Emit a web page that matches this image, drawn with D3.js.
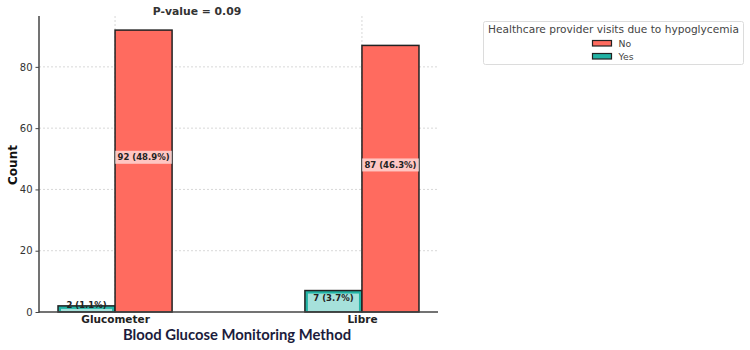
<!DOCTYPE html>
<html>
<head>
<meta charset="utf-8">
<script src="https://cdn.jsdelivr.net/npm/d3@7"></script>
<style>
  html, body { margin: 0; padding: 0; background: #fff; }
  svg { display: block; }
</style>
</head>
<body>
<svg id="chart" width="750" height="350"></svg>
<script>
// ---- data ----
const categories = ["Glucometer", "Libre"];
const hues = ["Yes", "No"];              // drawing order (left to right within group)
const legendHues = ["No", "Yes"];        // legend order
const yesCounts = [2, 7];
const noCounts = [92, 87];
const yesPercents = ["1.1%", "3.7%"];
const noPercents = ["48.9%", "46.3%"];
const yTicks = [0, 20, 40, 60, 80];
const titleText = "P-value = 0.09";
const xLabel = "Blood Glucose Monitoring Method";
const yLabel = "Count";
const legendTitle = "Healthcare provider visits due to hypoglycemia";

const colors = { No: "#FF6B5F", Yes: "#22B3A5" };

const rows = [];
categories.forEach((c, i) => {
  rows.push({ cat: c, hue: "Yes", value: yesCounts[i], pct: yesPercents[i] });
  rows.push({ cat: c, hue: "No", value: noCounts[i], pct: noPercents[i] });
});

// ---- layout ----
const svg = d3.select("#chart");
const pLeft = 39, pRight = 438, pTop = 16, pBottom = 312;

const x = d3.scalePoint().domain(categories).range([pLeft, pRight]).padding(0.308);
const step = x.step();
const barW = step * 0.231;
const sub = d3.scaleOrdinal().domain(hues).range([-barW, 0]);
const y = d3.scaleLinear().domain([0, 96.6]).range([pBottom, pTop]);

// grid
const grid = svg.append("g");
grid.selectAll("line.h").data(yTicks.filter(d => d > 0)).join("line")
  .attr("x1", pLeft).attr("x2", pRight)
  .attr("y1", d => y(d)).attr("y2", d => y(d))
  .attr("stroke", "#d8d8d8").attr("stroke-width", 1).attr("stroke-dasharray", "2,2");
grid.selectAll("line.v").data(categories).join("line")
  .attr("x1", d => x(d)).attr("x2", d => x(d))
  .attr("y1", pTop).attr("y2", pBottom)
  .attr("stroke", "#d8d8d8").attr("stroke-width", 1).attr("stroke-dasharray", "2,2");

// bars
svg.append("g").selectAll("rect").data(rows).join("rect")
  .attr("x", d => x(d.cat) + sub(d.hue))
  .attr("y", d => y(d.value))
  .attr("width", barW)
  .attr("height", d => y(0) - y(d.value))
  .attr("fill", d => colors[d.hue])
  .attr("stroke", "#222")
  .attr("stroke-width", 1.5);

// labels
const lab = svg.append("g");
rows.forEach(d => {
  const x0 = x(d.cat) + sub(d.hue);
  const cx = x0 + barW / 2;
  const txt = `${d.value} (${d.pct})`;
  const g = lab.append("g");
  let baseline;
  if (d.hue === "No") {
    baseline = y(d.value / 2 + 4) + 1.5;
  } else {
    baseline = y(d.value / 2) - 0.5;
  }
  const t = g.append("text")
    .attr("x", cx).attr("y", baseline)
    .attr("text-anchor", "middle")
    .attr("font-family", "DejaVu Sans")
    .attr("font-weight", "bold")
    .attr("font-size", 8.5)
    .attr("fill", "#222")
    .text(txt);
  const tw = t.node().getComputedTextLength();
  if (d.hue === "No") {
    const boxW = tw + 5, boxH = 13, cy = baseline - 3;
    g.insert("rect", "text")
      .attr("x", cx - boxW / 2).attr("y", cy - boxH / 2)
      .attr("width", boxW).attr("height", boxH)
      .attr("fill", "#fff").attr("fill-opacity", 0.62);
  } else {
    const inset = 3;
    const yTop = y(d.value) + inset;
    const h = Math.max(1.5, y(0) - 1 - yTop);
    g.insert("rect", "text")
      .attr("x", x0 + inset).attr("y", yTop)
      .attr("width", barW - 2 * inset).attr("height", h)
      .attr("fill", "#fff").attr("fill-opacity", 0.6);
  }
});

// clip region below axis (labels clipped by axes)
svg.append("rect").attr("x", 0).attr("y", pBottom + 1).attr("width", pRight + 5).attr("height", 8).attr("fill", "#fff");

// axes
const yAxis = d3.axisLeft(y).tickValues(yTicks).tickSize(3.5).tickPadding(3);
const gy = svg.append("g").attr("transform", `translate(${pLeft},0)`).call(yAxis);
gy.select(".domain").remove();
gy.selectAll(".tick line").attr("stroke", "#444");
gy.selectAll(".tick text").attr("font-family", "DejaVu Sans").attr("font-size", 10).attr("fill", "#333");
svg.append("line").attr("x1", pLeft).attr("x2", pLeft).attr("y1", pTop).attr("y2", pBottom + 0.75)
  .attr("stroke", "#444").attr("stroke-width", 1.5);
svg.append("line").attr("x1", pLeft).attr("x2", pRight).attr("y1", pBottom).attr("y2", pBottom)
  .attr("stroke", "#444").attr("stroke-width", 1.5);

const xAxis = d3.axisBottom(x).tickSize(0).tickPadding(0);
const gx = svg.append("g").attr("transform", `translate(0,${pBottom})`).call(xAxis);
gx.select(".domain").remove();
gx.selectAll(".tick text").attr("font-family", "DejaVu Sans").attr("font-weight", "bold")
  .attr("font-size", 10.5).attr("fill", "#222").attr("dy", null).attr("y", 11);

// titles
svg.append("text").attr("x", 197).attr("y", 15).attr("text-anchor", "middle")
  .attr("font-family", "DejaVu Sans").attr("font-weight", "bold").attr("font-size", 10.8)
  .attr("fill", "#333").text(titleText);

svg.append("text").attr("transform", `translate(17,165) rotate(-90)`).attr("text-anchor", "middle")
  .attr("font-family", "DejaVu Sans").attr("font-weight", "bold").attr("font-size", 12)
  .attr("fill", "#111").text(yLabel);

svg.append("text").attr("x", 237).attr("y", 340).attr("text-anchor", "middle")
  .attr("font-family", "Lato").attr("font-weight", "bold").attr("font-size", 14.8)
  .attr("fill", "#1c1c3c").text(xLabel);

// legend
const lg = svg.append("g");
lg.append("rect").attr("x", 483.5).attr("y", 21.5).attr("width", 260).attr("height", 43).attr("rx", 2)
  .attr("fill", "#fff").attr("stroke", "#dcdcdc").attr("stroke-width", 1);
lg.append("text").attr("x", 613.5).attr("y", 33).attr("text-anchor", "middle")
  .attr("font-family", "DejaVu Sans").attr("font-size", 10.6).attr("fill", "#444").text(legendTitle);
legendHues.forEach((h, i) => {
  const yy = 40.5 + i * 13;
  lg.append("rect").attr("x", 592.5).attr("y", yy).attr("width", 19).attr("height", 5.5)
    .attr("fill", colors[h]).attr("stroke", "#222").attr("stroke-width", 1.2);
  lg.append("text").attr("x", 618.5).attr("y", yy + 6.5)
    .attr("font-family", "DejaVu Sans").attr("font-size", 9.3).attr("fill", "#444").text(h);
});
</script>
</body>
</html>
